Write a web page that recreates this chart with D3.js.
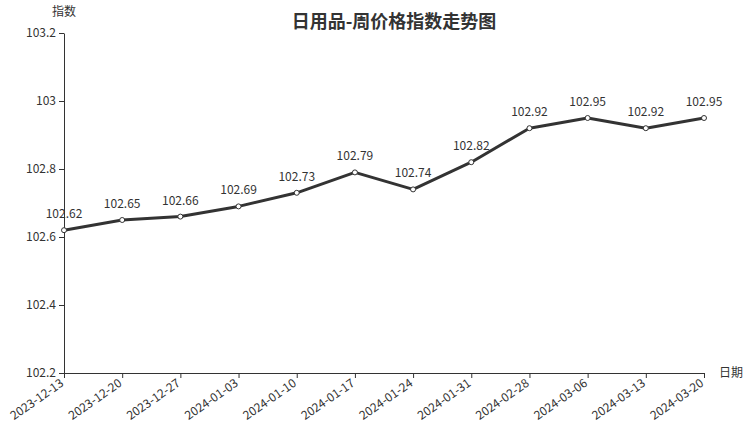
<!DOCTYPE html>
<html><head><meta charset="utf-8">
<script src="https://cdn.jsdelivr.net/npm/d3@7/dist/d3.min.js"></script>
<style>body{margin:0;background:#fff;font-family:"Noto Sans CJK SC","Noto Sans",sans-serif;}</style>
</head><body><svg id="c" width="752" height="427"></svg>
<script>
const categories = ["2023-12-13","2023-12-20","2023-12-27","2024-01-03","2024-01-10","2024-01-17","2024-01-24","2024-01-31","2024-02-28","2024-03-06","2024-03-13","2024-03-20"];
const values = [102.62,102.65,102.66,102.69,102.73,102.79,102.74,102.82,102.92,102.95,102.92,102.95];
const yTicks = [102.2,102.4,102.6,102.8,103,103.2];
const title = "日用品-周价格指数走势图";

const svg = d3.select("#c");
const font = '"Noto Sans CJK SC","Noto Sans",sans-serif';
const m = {l:64, r:48, t:33, b:54};
const W = 752, H = 427;
const x = d3.scalePoint().domain(categories).range([m.l, W - m.r]);
const y = d3.scaleLinear().domain([102.2,103.2]).range([H - m.b, m.t]);

svg.append("text").attr("x",394).attr("y",28).attr("text-anchor","middle")
  .attr("font-family",font).attr("font-size",18).attr("font-weight","bold").attr("fill","#333").text(title);

const ya = svg.append("g").attr("transform",`translate(${m.l},0)`)
  .call(d3.axisLeft(y).tickValues(yTicks).tickFormat(d=>String(d)).tickSize(5).tickSizeOuter(0));
ya.selectAll("text").attr("font-family",font).attr("font-size",12).attr("fill","#333");
ya.selectAll("line,path").attr("stroke","#333");

const xa = svg.append("g").attr("transform",`translate(0,${H-m.b})`)
  .call(d3.axisBottom(x).tickSize(5).tickSizeOuter(0));
xa.selectAll("text").attr("font-family",font).attr("font-size",12).attr("fill","#333")
  .attr("x",0).attr("y",0).attr("text-anchor","end").attr("dx",0).attr("dy",0)
  .attr("transform","translate(0,12) rotate(-35)");
xa.selectAll("line,path").attr("stroke","#333");

svg.append("text").attr("x",64).attr("y",16).attr("text-anchor","middle")
  .attr("font-family",font).attr("font-size",12).attr("fill","#333").text("指数");
svg.append("text").attr("x",719).attr("y",377).attr("text-anchor","start")
  .attr("font-family",font).attr("font-size",12).attr("fill","#333").text("日期");

const data = categories.map((c,i)=>({c, v:values[i]}));
svg.append("path").datum(data).attr("fill","none").attr("stroke","#333").attr("stroke-width",3)
  .attr("stroke-linejoin","round")
  .attr("d", d3.line().x(d=>x(d.c)).y(d=>y(d.v)));
svg.selectAll("circle.p").data(data).join("circle").attr("class","p")
  .attr("cx",d=>x(d.c)).attr("cy",d=>y(d.v)).attr("r",2.5)
  .attr("fill","#fff").attr("stroke","#333").attr("stroke-width",1);
svg.selectAll("text.lb").data(data).join("text").attr("class","lb")
  .attr("x",d=>x(d.c)).attr("y",d=>y(d.v)-12).attr("text-anchor","middle")
  .attr("font-family",font).attr("font-size",12).attr("fill","#333").text(d=>d.v);
</script></body></html>
